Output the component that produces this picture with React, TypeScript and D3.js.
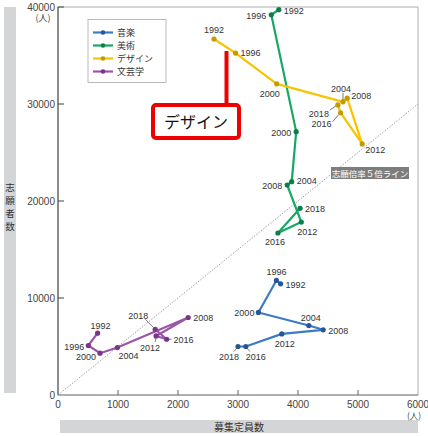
import * as d3 from "d3";

// 年度
const years = [1992, 1996, 2000, 2004, 2008, 2012, 2016, 2018];

// 募集定員数 / 志願者数
const musicCapacity = [3710, 3640, 3340, 4180, 4420, 3730, 3130, 3000];
const musicApplicants = [11460, 11810, 8510, 7160, 6720, 6300, 5000, 5000];

const artCapacity = [3680, 3555, 3970, 3895, 3820, 4055, 3665, 4035];
const artApplicants = [39720, 39200, 27150, 21990, 21650, 17830, 16700, 19250];

const designCapacity = [2600, 2960, 3645, 4750, 4820, 5070, 4710, 4665];
const designApplicants = [36700, 35250, 32080, 30220, 30600, 25880, 29100, 29900];

const litCapacity = [660, 505, 700, 990, 2170, 1635, 1810, 1620];
const litApplicants = [6370, 5100, 4310, 4890, 7990, 6090, 5750, 6780];

const seriesNames = ["音楽", "美術", "デザイン", "文芸学"];
const xTicks = [0, 1000, 2000, 3000, 4000, 5000, 6000];
const yTicks = [0, 10000, 20000, 30000, 40000];
const ratio = 5;

const lineColors = ["#3d7cc4", "#17a866", "#f8c400", "#9c56a8"];
const dotColors = ["#25589a", "#0c7f49", "#c59a00", "#7a3589"];

// ラベル位置 [dx, dy, anchor, leader]
type Lab = [number, number, string, number[] | null];
const labels: Lab[][] = [
  [
    [5, 4, "start", null],
    [0, -5, "middle", null],
    [-4, 4, "end", null],
    [2, -5, "middle", null],
    [5, 4, "start", null],
    [3, 13, "middle", null],
    [10, 13, "middle", [0, 0, 4, 5]],
    [-9, 13, "middle", [0, 0, -4, 5]],
  ],
  [
    [5, 4, "start", null],
    [-5, 4, "end", null],
    [-5, 4, "end", null],
    [5, 2, "start", null],
    [-5, 4, "end", null],
    [-4, 13, "start", null],
    [-3, 12, "middle", null],
    [5, 4, "start", null],
  ],
  [
    [0, -6, "middle", null],
    [5, 3, "start", null],
    [-7, 13, "middle", null],
    [-2, -10, "middle", [0, -2, 0, -9]],
    [4, 1, "start", null],
    [3, 9, "start", null],
    [-9, 14, "end", [-2, 2, -8, 9]],
    [-9, 12, "end", [-2, 1, -8, 5]],
  ],
  [
    [3, -4, "middle", null],
    [-4, 4, "end", null],
    [-4, 7, "end", null],
    [1, 11, "start", null],
    [5, 4, "start", null],
    [-6, 15, "middle", [0, 2, -1, 6]],
    [7, 4, "start", [-1, 0, 5, 0]],
    [-17, -10, "middle", [-2, -2, -10, -10]],
  ],
];

const App = () => {
  const width = 428;
  const height = 436;
  const margin = { left: 58, right: 10, top: 7, bottom: 41 };
  const innerW = width - margin.left - margin.right;
  const innerH = height - margin.top - margin.bottom;

  const x = d3.scaleLinear().domain([0, 6000]).range([margin.left, margin.left + innerW]);
  const y = d3.scaleLinear().domain([0, 40000]).range([margin.top + innerH, margin.top]);

  const caps = [musicCapacity, artCapacity, designCapacity, litCapacity];
  const apps = [musicApplicants, artApplicants, designApplicants, litApplicants];

  const font = "'Liberation Sans', 'Noto Sans CJK JP', sans-serif";
  const jfont = "'Noto Sans CJK JP', sans-serif";

  const pathFor = (k: number) =>
    d3
      .line<number>()
      .x((_, i) => x(caps[k][i]))
      .y((_, i) => y(apps[k][i]))(years) ?? "";

  const ratioX = Math.min(6000, 40000 / ratio);

  return (
    <svg
      width={width}
      height={height}
      style={{ position: "absolute", left: 0, top: 0, background: "#fff" }}
      fontFamily={font}
    >
      {/* 軸ラベル */}
      <rect x={4} y={7} width={12} height={386} fill="#d4d5d7" />
      {"志願者数".split("").map((c, i) => (
        <text key={c + i} x={10} y={191 + i * 13} fontSize={9.5} textAnchor="middle" fill="#333" fontFamily={jfont}>
          {c}
        </text>
      ))}
      <rect x={60} y={420} width={358} height={13} fill="#d4d5d7" />
      <text x={239} y={431} fontSize={10} textAnchor="middle" fill="#333" fontFamily={jfont}>
        募集定員数
      </text>

      {/* 枠 */}
      <rect x={margin.left} y={margin.top} width={innerW} height={innerH} fill="none" stroke="#999" strokeWidth={0.8} />
      <line x1={margin.left} x2={margin.left} y1={margin.top} y2={margin.top + innerH} stroke="#444" strokeWidth={1} />
      <line x1={margin.left} x2={margin.left + innerW} y1={margin.top + innerH} y2={margin.top + innerH} stroke="#888" strokeWidth={1.2} />

      {/* 目盛 */}
      {yTicks.map((t) => (
        <g key={t}>
          {t > 0 && <line x1={x(0)} x2={x(0) + 6} y1={y(t)} y2={y(t)} stroke="#444" />}
          <text x={x(0) - 3} y={y(t) + 3.5} fontSize={10} textAnchor="end" fill="#444">
            {t}
          </text>
        </g>
      ))}
      <text x={43} y={21} fontSize={9} textAnchor="middle" fill="#444" fontFamily={jfont}>
        (人)
      </text>
      {xTicks.map((t) => (
        <g key={t}>
          {t > 0 && t < 6000 && (
            <line x1={x(t)} x2={x(t)} y1={y(0)} y2={y(0) - 5} stroke="#666" />
          )}
          <text x={x(t)} y={y(0) + 12.5} fontSize={10} textAnchor="middle" fill="#444">
            {t}
          </text>
        </g>
      ))}
      <text x={414} y={418.5} fontSize={8.5} textAnchor="middle" fill="#444" fontFamily={jfont}>
        (人)
      </text>

      {/* 志願倍率5倍ライン */}
      <line
        x1={x(0)}
        y1={y(0)}
        x2={x(ratioX)}
        y2={y(ratioX * ratio)}
        stroke="#888"
        strokeWidth={0.8}
        strokeDasharray="1.5,1.5"
      />
      <rect x={331} y={167} width={78} height={12} fill="#7d7d7d" />
      <text x={370} y={176.5} fontSize={8.5} textAnchor="middle" fill="#fff" fontFamily={jfont}>
        志願倍率５倍ライン
      </text>

      {/* 系列 */}
      {caps.map((_, k) => (
        <g key={k}>
          <path d={pathFor(k)} fill="none" stroke={lineColors[k]} strokeWidth={2.2} strokeLinejoin="round" />
          {years.map((yr, i) => (
            <circle key={yr} cx={x(caps[k][i])} cy={y(apps[k][i])} r={2.6} fill={dotColors[k]} />
          ))}
        </g>
      ))}

      {/* 年度ラベル */}
      {caps.map((_, k) =>
        years.map((yr, i) => {
          const px = x(caps[k][i]);
          const py = y(apps[k][i]);
          const [dx, dy, anchor, leader] = labels[k][i];
          return (
            <g key={`${k}-${yr}`}>
              {leader && (
                <line
                  x1={px + leader[0]}
                  y1={py + leader[1]}
                  x2={px + leader[2]}
                  y2={py + leader[3]}
                  stroke="#444"
                  strokeWidth={0.7}
                />
              )}
              <text x={px + dx} y={py + dy} fontSize={9} textAnchor={anchor} fill="#333">
                {yr}
              </text>
            </g>
          );
        })
      )}

      {/* 凡例 */}
      <rect x={88} y={19.5} width={78} height={63} fill="#fff" stroke="#aaa" strokeWidth={0.8} />
      {seriesNames.map((n, k) => (
        <g key={n} transform={`translate(93,${32.5 + k * 13})`}>
          <line x1={0} x2={20} y1={0} y2={0} stroke={lineColors[k]} strokeWidth={2.2} />
          <circle cx={10} cy={0} r={2.3} fill={dotColors[k]} />
          <text x={24} y={3.3} fontSize={9} fill="#333" fontFamily={jfont}>
            {n}
          </text>
        </g>
      ))}

      {/* 注記 */}
      <line x1={226.5} x2={226.5} y1={51} y2={105} stroke="#ee0000" strokeWidth={4} />
      <rect x={153} y={105} width={86} height={33} rx={3} fill="#fff" stroke="#ee0000" strokeWidth={4} />
      <text x={196} y={128} fontSize={16} textAnchor="middle" fill="#111" fontFamily={jfont}>
        デザイン
      </text>
    </svg>
  );
};

export default App;
